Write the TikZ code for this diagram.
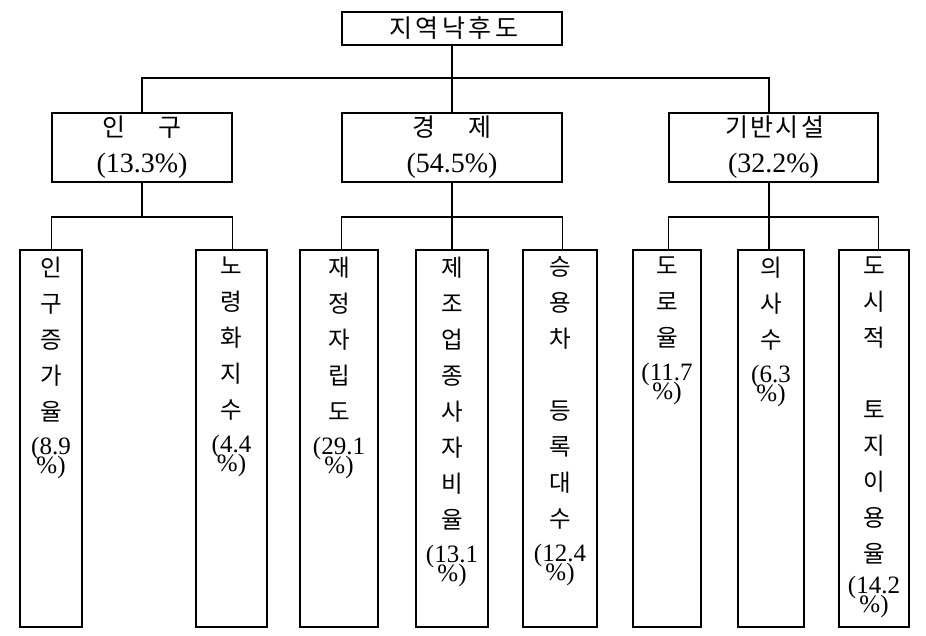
\documentclass[tikz,border=0pt]{standalone}
\usepackage{fontspec}
\setmainfont{Liberation Serif}
\newfontfamily\cjk{Noto Sans CJK KR}
\newcommand{\pc}[1]{{\rmfamily\fontsize{25}{36}\selectfont #1}}
\newcommand{\pcm}[1]{{\rmfamily\fontsize{28}{36}\selectfont #1}}
\begin{document}
\begin{tikzpicture}[x=1pt,y=-1pt,
  frame/.style={draw, line width=1.1pt, inner sep=0pt, rectangle},
  head/.style={frame, font=\cjk\fontsize{25}{36}\selectfont, align=center, minimum height=69pt},
  col/.style={frame, minimum height=377pt},
  vtext/.style={font=\cjk\fontsize{23.5}{36}\selectfont, inner sep=0pt, align=center, anchor=north},
  link/.style={line width=1.1pt}]
\fill[white] (0,0) rectangle (926,636);
\useasboundingbox (0,0) rectangle (926,636);
% top
\node[frame, font=\cjk\fontsize{25}{36}\selectfont, minimum width=220pt, minimum height=33pt] (top) at (452,28.5) {\addfontfeature{LetterSpace=14}\hspace{3.5pt}지역낙후도};
% middle
\node[head, minimum width=180pt] (pop) at (142,147.5) {인\hspace{33pt}구\\\pcm{(13.3\%)}};
\node[head, minimum width=220pt] (eco) at (452,147.5) {경\hspace{33pt}제\\\pcm{(54.5\%)}};
\node[head, minimum width=209pt] (inf) at (773.5,147.5) {\addfontfeature{LetterSpace=10}\hspace{2.5pt}기반시설\\\pcm{(32.2\%)}};
% columns
\node[col, minimum width=62pt] (c1) at (51,438.5) {};
\node[col, minimum width=71pt] (c2) at (231.5,438.5) {};
\node[col, minimum width=78pt] (c3) at (339,438.5) {};
\node[col, minimum width=72pt] (c4) at (452,438.5) {};
\node[col, minimum width=74pt] (c5) at (560,438.5) {};
\node[col, minimum width=68pt] (c6) at (667,438.5) {};
\node[col, minimum width=66pt] (c7) at (771,438.5) {};
\node[col, minimum width=70pt] (c8) at (874,438.5) {};
\node[vtext] (t1) at ([yshift=-7pt]c1.north) {인\\구\\증\\가\\율\\[-2pt]\pc{(8.9}\\[-17pt]\pc{\%)}};
\node[vtext] (t2) at ([yshift=-7pt]c2.north) {노\\령\\화\\지\\수\\[-2pt]\pc{(4.4}\\[-17pt]\pc{\%)}};
\node[vtext] (t3) at ([yshift=-7pt]c3.north) {재\\정\\자\\립\\도\\[-2pt]\pc{(29.1}\\[-17pt]\pc{\%)}};
\node[vtext] (t4) at ([yshift=-7pt]c4.north) {제\\조\\업\\종\\사\\자\\비\\율\\[-2pt]\pc{(13.1}\\[-17pt]\pc{\%)}};
\node[vtext] (t5) at ([yshift=-7pt]c5.north) {승\\용\\차\\\mbox{}\\등\\록\\대\\수\\[-2pt]\pc{(12.4}\\[-17pt]\pc{\%)}};
\node[vtext] (t6) at ([yshift=-7pt]c6.north) {도\\로\\율\\[-2pt]\pc{(11.7}\\[-17pt]\pc{\%)}};
\node[vtext] (t7) at ([yshift=-7pt]c7.north) {의\\사\\수\\[-2pt]\pc{(6.3}\\[-17pt]\pc{\%)}};
\node[vtext] (t8) at ([yshift=-7pt]c8.north) {도\\시\\적\\\mbox{}\\토\\지\\이\\용\\율\\[-4.5pt]\pc{(14.2}\\[-17pt]\pc{\%)}};
% connectors level 1
\coordinate (tj) at (top.south |- 0,78);
\coordinate (infn) at ([xshift=-4.5pt]inf.north);
\coordinate (infs) at ([xshift=-4.5pt]inf.south);
\draw[link] (top.south) -- (eco.north);
\draw[link] (pop.north) |- (tj) -| (infn);
% level 2
\coordinate (pj) at (pop.south |- 0,217);
\draw[link] (pop.south) -- (pj);
\draw[link] (c1.north -| pop.west) |- (pj) -| (c2.north -| pop.east);
\coordinate (ej) at (eco.south |- 0,217);
\draw[link] (eco.south) -- (eco.south |- c4.north);
\draw[link] (c3.north -| eco.west) |- (ej) -| (c5.north -| eco.east);
\coordinate (ij) at (infs |- 0,217);
\draw[link] (infs) -- (infs |- c7.north);
\draw[link] (c6.north -| inf.west) |- (ij) -| (c8.north -| inf.east);
\end{tikzpicture}
\end{document}
